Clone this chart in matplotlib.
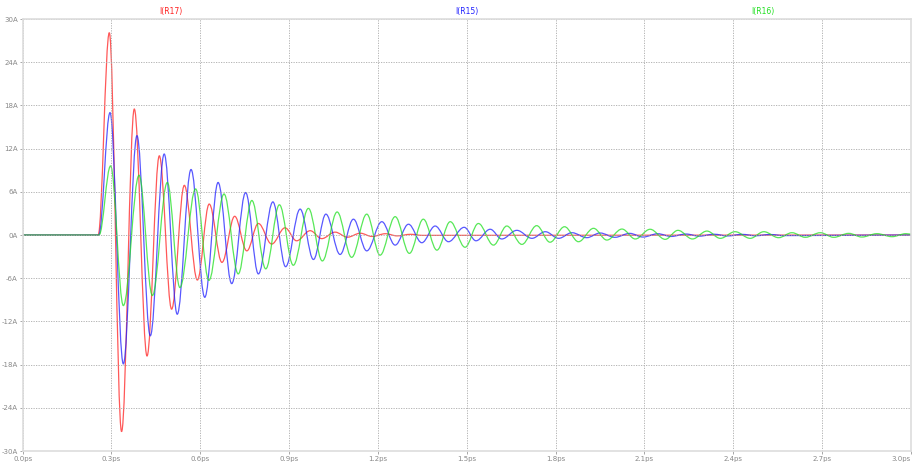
import numpy as np
import matplotlib
matplotlib.use("Agg")
import matplotlib.pyplot as plt
from matplotlib.path import Path
from matplotlib.patches import PathPatch

# ---- data: extrema (time in ps, current in A) ----
r17_t = [0.0, 0.255, 0.2926, 0.334, 0.377, 0.420, 0.4615, 0.503, 0.546, 0.590, 0.630,
         0.673, 0.716, 0.757, 0.796, 0.841, 0.886, 0.925, 0.971, 1.010, 1.055,
         1.097, 1.140, 1.180, 1.225, 1.265, 1.31, 1.35, 3.0]
r17_v = [0.0, 0.0, 28.1, -27.3, 17.5, -16.8, 11.0, -10.3, 6.9, -6.25, 4.3,
         -3.8, 2.6, -2.2, 1.6, -1.25, 1.0, -0.8, 0.6, -0.5, 0.4,
         -0.3, 0.25, -0.2, 0.18, -0.12, 0.1, -0.05, 0.0]

r15_t = [0.0, 0.257, 0.295, 0.340, 0.386, 0.431, 0.478, 0.522, 0.5686, 0.615, 0.660,
         0.706, 0.753, 0.796, 0.845, 0.888, 0.937, 0.982, 1.024, 1.072, 1.117,
         1.162, 1.213, 1.258, 1.303, 1.348, 1.393, 1.438, 1.491, 1.531, 1.579,
         1.618, 1.669, 1.720, 1.765, 1.810, 1.855, 1.905, 1.950, 2.000, 2.050,
         2.095, 2.145, 2.190, 2.240, 2.285, 2.335, 2.380, 2.430, 2.475, 2.525,
         2.570, 3.0]
r15_v = [0.0, 0.0, 17.0, -17.9, 13.8, -14.0, 11.25, -11.0, 9.1, -8.65, 7.3,
         -6.75, 5.9, -5.4, 4.6, -4.4, 3.6, -3.4, 2.9, -2.7, 2.2,
         -2.2, 1.85, -1.4, 1.5, -1.07, 1.25, -0.93, 1.07, -0.8, 0.8,
         -0.55, 0.65, -0.46, 0.46, -0.46, 0.32, -0.37, 0.28, -0.32, 0.23,
         -0.28, 0.18, -0.2, 0.14, -0.16, 0.11, -0.13, 0.09, -0.1, 0.07,
         -0.08, 0.0]

r16_t = [0.0, 0.258, 0.297, 0.340, 0.393, 0.438, 0.4885, 0.531, 0.584, 0.629, 0.680,
         0.728, 0.774, 0.821, 0.867, 0.914, 0.965, 1.012, 1.062, 1.111, 1.162,
         1.207, 1.258, 1.306, 1.353, 1.399, 1.444, 1.494, 1.539, 1.590, 1.635,
         1.686, 1.736, 1.781, 1.830, 1.877, 1.928, 1.973, 2.024, 2.069, 2.119,
         2.170, 2.213, 2.262, 2.311, 2.356, 2.406, 2.457, 2.503, 2.553, 2.598,
         2.643, 2.694, 2.739, 2.790, 2.834, 2.885, 2.936, 2.983, 3.0]
r16_v = [0.0, 0.0, 9.6, -9.8, 8.3, -8.4, 7.3, -7.3, 6.4, -6.3, 5.7,
         -5.4, 4.8, -4.7, 4.2, -4.2, 3.7, -3.6, 3.2, -3.1, 2.9,
         -2.8, 2.55, -2.55, 2.2, -2.1, 1.85, -1.7, 1.6, -1.4, 1.25,
         -1.3, 1.3, -1.0, 1.15, -0.93, 0.93, -0.7, 0.83, -0.55, 0.8,
         -0.6, 0.65, -0.55, 0.55, -0.46, 0.46, -0.46, 0.46, -0.37, 0.32,
         -0.32, 0.32, -0.32, 0.23, -0.28, 0.19, -0.23, 0.19, 0.12]

series_names = ["I(R17)", "I(R15)", "I(R16)"]
x_ticks = [0.0, 0.3, 0.6, 0.9, 1.2, 1.5, 1.8, 2.1, 2.4, 2.7, 3.0]
x_labels = ["0.0ps", "0.3ps", "0.6ps", "0.9ps", "1.2ps", "1.5ps", "1.8ps",
            "2.1ps", "2.4ps", "2.7ps", "3.0ps"]
y_ticks = [30, 24, 18, 12, 6, 0, -6, -12, -18, -24, -30]
y_labels = ["30A", "24A", "18A", "12A", "6A", "0A", "-6A", "-12A", "-18A", "-24A", "-30A"]

colors = ["#ff2020", "#2020ff", "#20e020"]


def smooth_path(ts, vs):
    """Cubic Bezier segments between consecutive extrema (horizontal tangents)."""
    verts = [(ts[0], vs[0])]
    codes = [Path.MOVETO]
    k = 0.3634
    for i in range(1, len(ts)):
        t0, v0, t1, v1 = ts[i - 1], vs[i - 1], ts[i], vs[i]
        d = t1 - t0
        verts += [(t0 + k * d, v0), (t1 - k * d, v1), (t1, v1)]
        codes += [Path.CURVE4, Path.CURVE4, Path.CURVE4]
    return Path(verts, codes)


fig = plt.figure(figsize=(9.14, 4.63), dpi=100)
ax = fig.add_axes([0.0248, 0.0259, 0.9719, 0.933])

for (ts, vs), c in zip([(r17_t, r17_v), (r15_t, r15_v), (r16_t, r16_v)], colors):
    ax.add_patch(PathPatch(smooth_path(ts, vs), facecolor="none", edgecolor=c,
                           lw=0.9, alpha=0.75))

ax.set_xlim(0, 3.0)
ax.set_ylim(-30, 30)
ax.set_xticks(x_ticks)
ax.set_xticklabels(x_labels)
ax.set_yticks(y_ticks)
ax.set_yticklabels(y_labels)
ax.tick_params(axis="both", labelsize=5, colors="#999999", length=2, width=0.6, pad=1.5)
for lab in ax.get_xticklabels() + ax.get_yticklabels():
    lab.set_color("#888888")
ax.get_xticklabels()[-1].set_horizontalalignment("right")
ax.grid(True, color="#aaaaaa", linestyle=(0, (1.5, 1.5)), linewidth=0.6)
for s in ax.spines.values():
    s.set_color("#dddddd")
    s.set_linewidth(1.2)

for name, c, xf in zip(series_names, colors, [1 / 6, 1 / 2, 5 / 6]):
    ax.text(xf, 1.008, name, transform=ax.transAxes, color=c, fontsize=5.5,
            ha="center", va="bottom")

fig.savefig("out.png", dpi=100)
